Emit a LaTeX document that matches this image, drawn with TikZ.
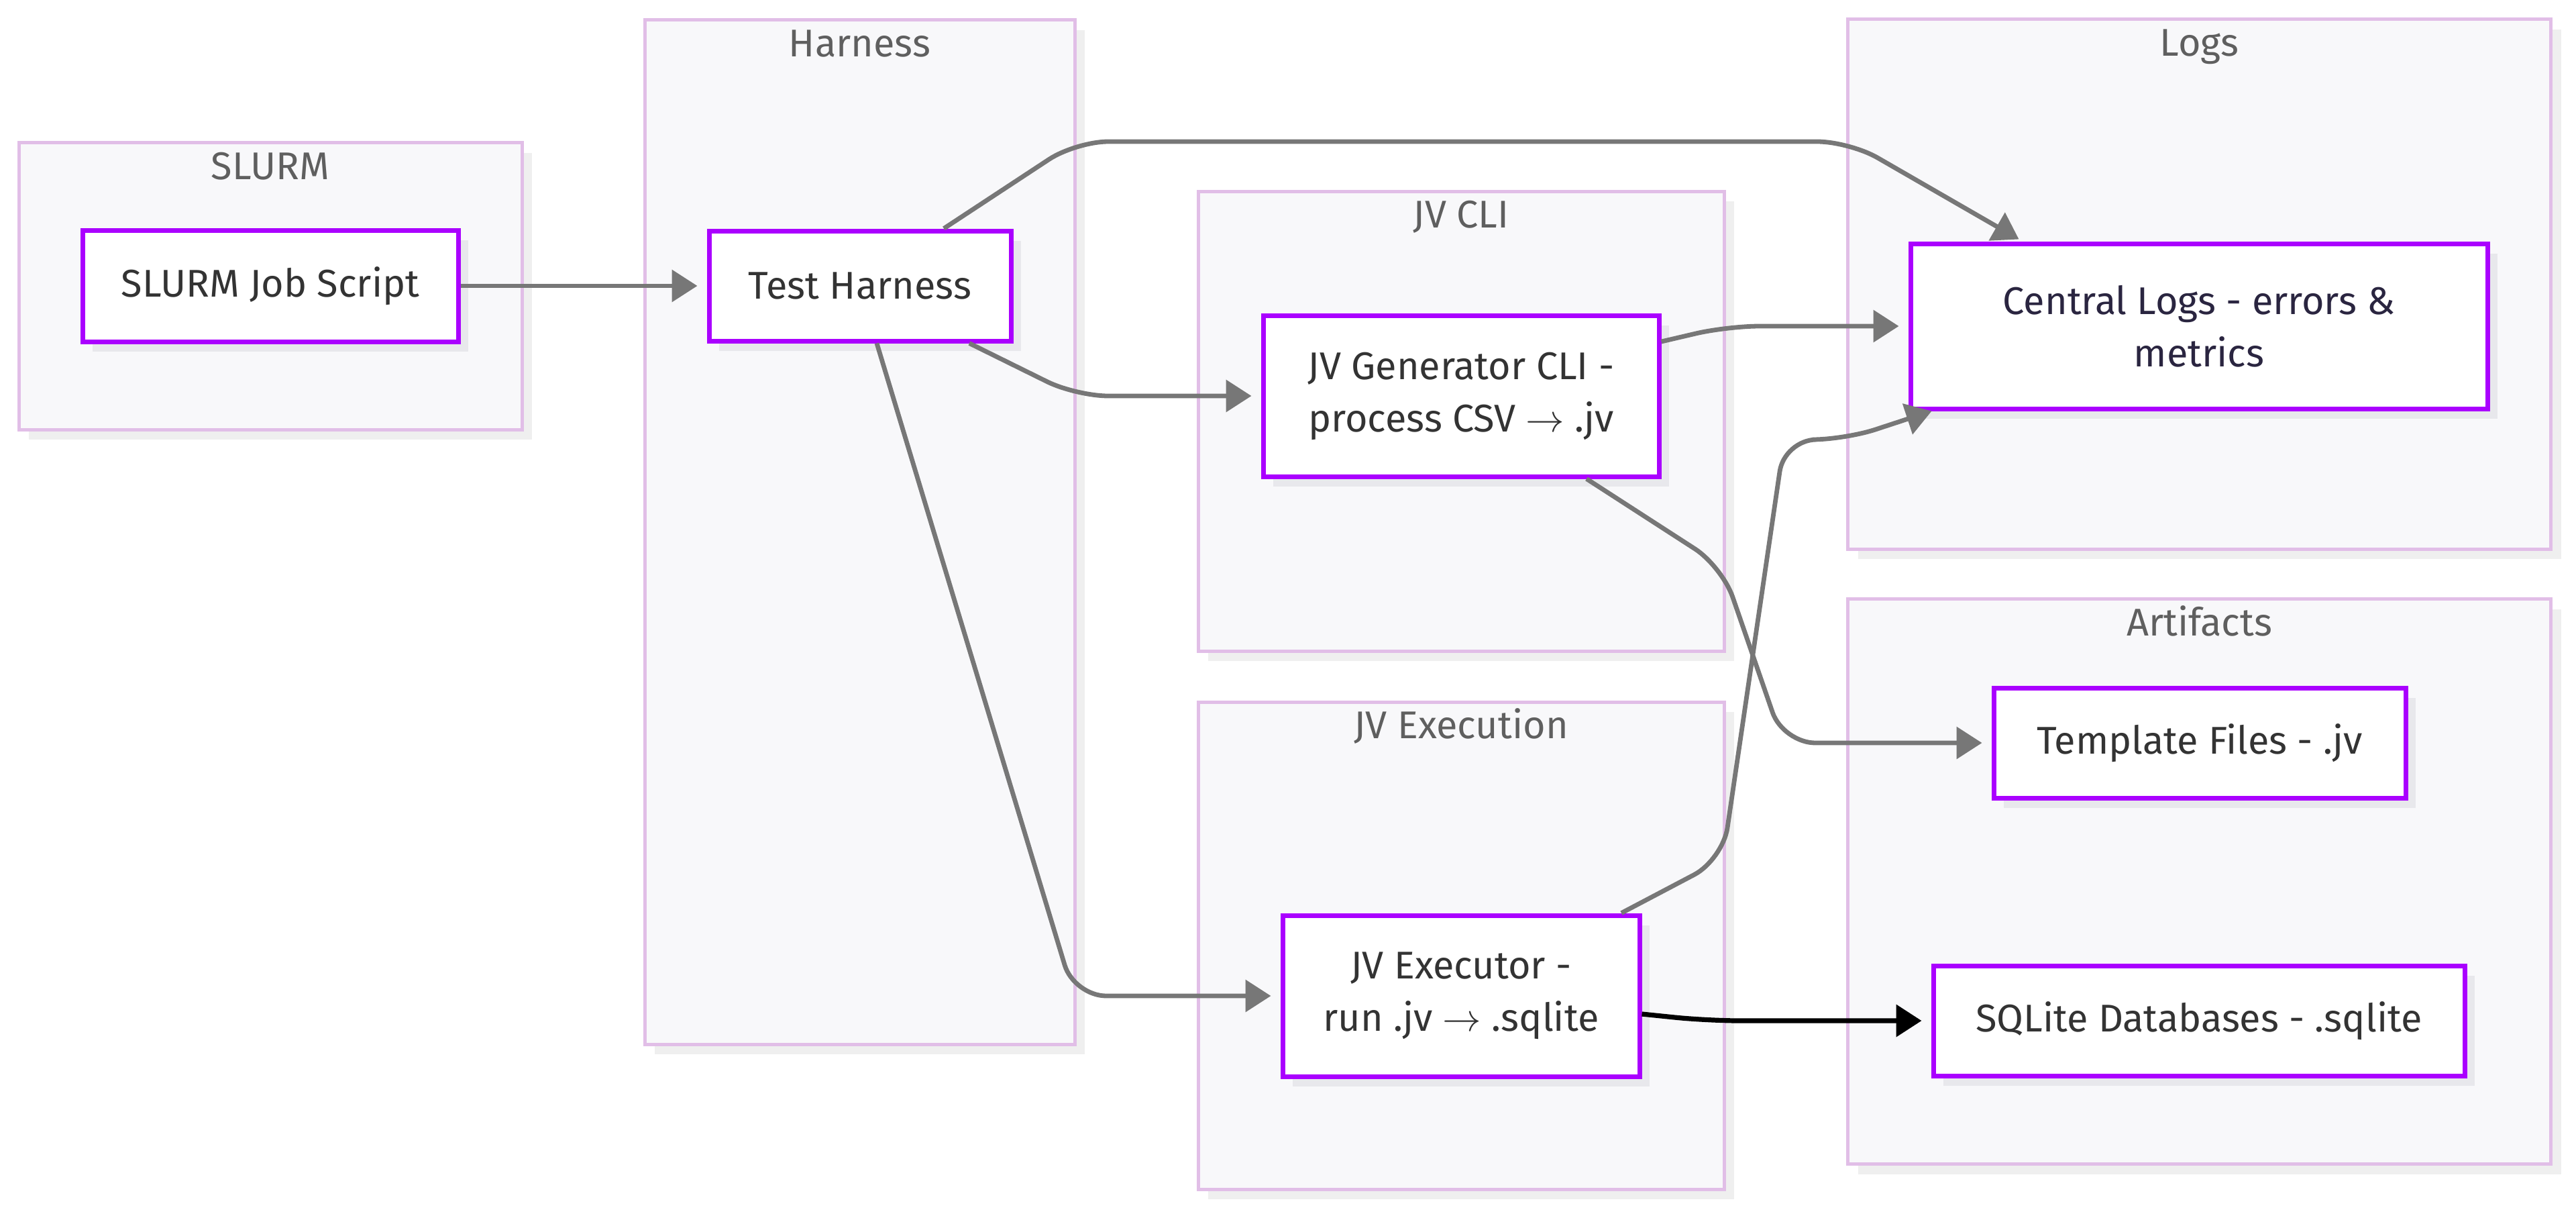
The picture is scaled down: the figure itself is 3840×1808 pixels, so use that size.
\documentclass[tikz,border=0pt]{standalone}
\usepackage{fontspec}
\setmainfont{Fira Sans}
\usetikzlibrary{calc,arrows.meta,shadows}
\definecolor{clusterfill}{HTML}{F8F8FA}
\definecolor{clusterdraw}{HTML}{E1BEE7}
\definecolor{clustershadow}{HTML}{EFEFEF}
\definecolor{nodeshadow}{HTML}{E8E8EC}
\definecolor{nodedraw}{HTML}{AA00FF}
\definecolor{nodetext}{HTML}{333333}
\definecolor{labeltext}{HTML}{5F5F5F}
\definecolor{logtext}{HTML}{2A2540}
\definecolor{edgegray}{HTML}{777777}
\begin{document}
\begin{tikzpicture}[x=0.25pt,y=-0.25pt,
  cluster/.style={draw=clusterdraw, line width=1.25pt, fill=clusterfill, inner sep=0pt,
    drop shadow={shadow xshift=3.75pt, shadow yshift=-3.75pt, fill=clustershadow, opacity=1}},
  clabel/.style={anchor=base, text=labeltext, font=\fontsize{14.4}{17}\selectfont, inner sep=0pt},
  box/.style={draw=nodedraw, line width=1.75pt, fill=white, inner sep=0pt, align=center,
    text=nodetext, font=\fontsize{14.4}{19.5}\selectfont,
    drop shadow={shadow xshift=3.75pt, shadow yshift=-3.75pt, fill=nodeshadow, opacity=1}},
  edge/.style={draw=edgegray, line width=1.7pt, rounded corners=12pt,
    -{Triangle[length=9.5pt,width=11.75pt]}},
  hedge/.style={edge, shorten >=3.5pt},
  bedge/.style={draw=black, line width=1.8pt, rounded corners=12pt, shorten >=3.5pt,
    -{Triangle[length=9.5pt,width=11.75pt]}}
]
\fill[white] (0,0) rectangle (3840,1808);
\useasboundingbox (0,0) rectangle (3840,1808);

% clusters
\node[cluster, minimum width=187.5pt, minimum height=106.75pt] (cSlurm) at (403,426.5) {};
\node[cluster, minimum width=160.25pt, minimum height=381.5pt] (cHarness) at (1281.5,793) {};
\node[cluster, minimum width=196pt, minimum height=171.25pt] (cCli) at (2178,627.5) {};
\node[cluster, minimum width=196pt, minimum height=181.5pt] (cExec) at (2178,1409) {};
\node[cluster, minimum width=262pt, minimum height=197.25pt] (cLogs) at (3278.5,423.5) {};
\node[cluster, minimum width=262pt, minimum height=210.5pt] (cArt) at (3278.5,1313.5) {};

\node[clabel] (lSlurm) at ($(cSlurm.north)+(0,57)$) {SLURM};
\node[clabel] (lHarness) at ($(cHarness.north)+(0,57)$) {Harness};
\node[clabel] (lCli) at ($(cCli.north)+(0,57)$) {JV CLI};
\node[clabel] (lExec) at ($(cExec.north)+(0,57)$) {JV Execution};
\node[clabel] (lLogs) at ($(cLogs.north)+(0,57)$) {Logs};
\node[clabel] (lArt) at ($(cArt.north)+(0,57)$) {Artifacts};

% nodes
\node[box, minimum width=140pt, minimum height=41.5pt] (slurm) at (403,426) {SLURM Job Script};
\node[box, minimum width=112.5pt, minimum height=41pt] (harness) at (1282,426) {Test Harness};
\node[box, minimum width=147.5pt, minimum height=60pt] (gen) at (2178,590) {JV Generator CLI -\\process CSV $\rightarrow$ .jv};
\node[box, minimum width=133pt, minimum height=60pt] (exec) at (2178,1484) {JV Executor -\\run .jv $\rightarrow$ .sqlite};
\node[box, minimum width=215pt, minimum height=61.5pt, text=logtext] (logs) at (3278,486) {Central Logs - errors \&\\metrics};
\node[box, minimum width=153.5pt, minimum height=41pt] (tmpl) at (3279,1107) {Template Files - .jv};
\node[box, minimum width=198pt, minimum height=41pt] (sqlite) at (3278,1521) {SQLite Databases - .sqlite};

% edges
\draw[hedge] (slurm.east) -- (harness.west);
\draw[edge] ($(harness.north)+(125,0)$) -- (1604,211) -- (2757,211) -- ($(logs.north west)+(165,-3)$);
\draw[hedge] ($(harness.south)+(163,0)$) -- (1604,590) -- (gen.west);
\draw[hedge] ($(harness.south)+(25,0)$) -- (1601,1484) -- (exec.west);
\draw[hedge] ($(gen.east)+(0,-81)$) -- (2575,486) -- (logs.west);
\draw[hedge] ($(gen.south)+(187,0)$) -- (2567,844) -- (2658,1107) -- (tmpl.west);
\draw[edge] ($(exec.north)+(239,0)$) -- (2568,1281) -- (2660,655) -- (2750,655) -- ($(logs.south west)+(35,0)$);
\draw[bedge] ($(exec.east)+(0,27)$) -- (2545,1521) -- (sqlite.west);
\end{tikzpicture}
\end{document}
